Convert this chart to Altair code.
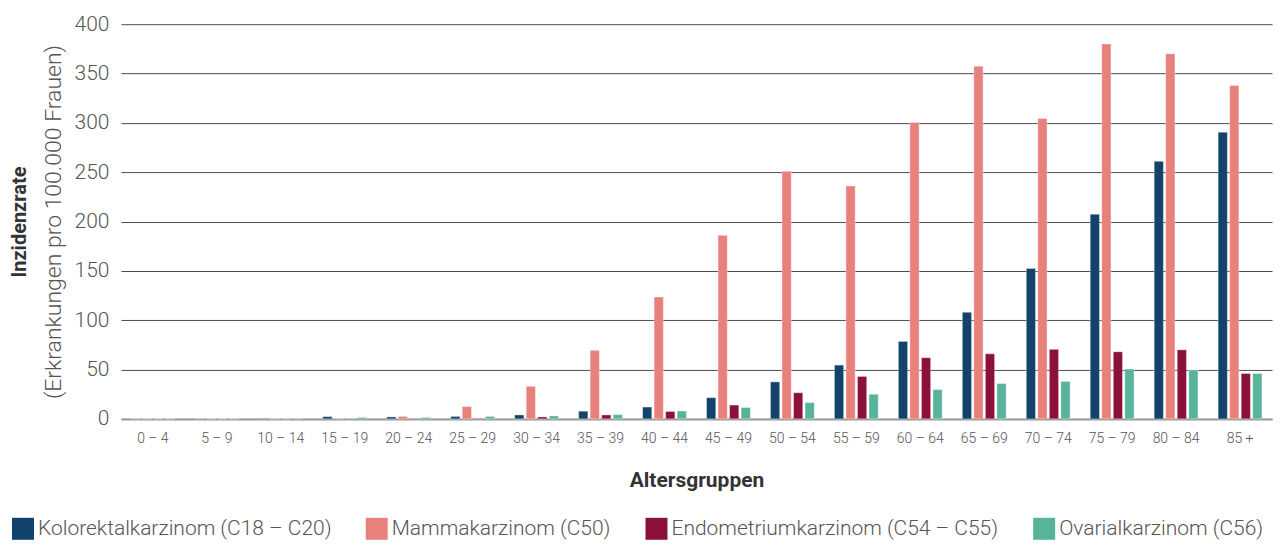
import altair as alt
import pandas as pd

altersgruppen = ["0 – 4", "5 – 9", "10 – 14", "15 – 19", "20 – 24", "25 – 29", "30 – 34",
                 "35 – 39", "40 – 44", "45 – 49", "50 – 54", "55 – 59", "60 – 64", "65 – 69",
                 "70 – 74", "75 – 79", "80 – 84", "85 +"]
serien = ["Kolorektalkarzinom (C18 – C20)", "Mammakarzinom (C50)",
          "Endometriumkarzinom (C54 – C55)", "Ovarialkarzinom (C56)"]
farben = ["#11436c", "#e8807b", "#8b1139", "#58b39b"]

kolorektal = [0.1, 0.2, 0.5, 2.3, 2.0, 2.5, 4.0, 7.8, 12, 21.5, 37.5, 54.5, 78.5, 108,
              152.5, 207.5, 261, 290.5]
mamma = [0.0, 0.0, 0.1, 0.4, 2.5, 12.5, 33, 69.5, 123.5, 186, 251, 236, 300.5, 357.5,
         304.5, 380, 370, 338]
endometrium = [0.0, 0.0, 0.1, 0.3, 0.5, 0.6, 2.0, 4.0, 7.5, 14, 26.5, 43, 62, 66,
               70.5, 68, 70, 46]
ovarial = [0.1, 0.2, 0.4, 1.5, 1.5, 2.5, 3.0, 4.3, 8.0, 11.5, 16.5, 25, 29.7, 35.8,
           38, 50.5, 49.5, 46]

werte = [kolorektal, mamma, endometrium, ovarial]
rows = []
for s, vals in zip(serien, werte):
    for a, v in zip(altersgruppen, vals):
        rows.append({"Alter": a, "Typ": s, "Wert": v})
df = pd.DataFrame(rows)

FONT = "Roboto"

bars = alt.Chart(df).mark_bar(stroke="white", strokeWidth=0.6, strokeOpacity=0.6).encode(
    x=alt.X("Alter:N", sort=altersgruppen,
            scale=alt.Scale(paddingInner=0.315, paddingOuter=0.1575),
            axis=alt.Axis(title="Altersgruppen", labelAngle=0, ticks=False,
                          domainColor="#999999", domainWidth=2,
                          labelFont=FONT, labelFontSize=14, labelFontWeight=300,
                          labelColor="#555555", labelPadding=13,
                          titleFont=FONT, titleFontSize=21, titleFontWeight="bold",
                          titleColor="#333333", titlePadding=24)),
    xOffset=alt.XOffset("Typ:N", sort=serien, scale=alt.Scale(paddingInner=0.2)),
    y=alt.Y("Wert:Q", scale=alt.Scale(domain=[0, 400]),
            axis=alt.Axis(title="(Erkrankungen pro 100.000 Frauen)", values=list(range(0, 401, 50)),
                          ticks=False, domain=False, grid=True, gridColor="#4d4d4d",
                          gridWidth=1, labelFont=FONT, labelFontSize=21, labelFontWeight=300,
                          labelColor="#555555", labelPadding=12,
                          titleFont=FONT, titleFontSize=23, titleFontWeight=300,
                          titleColor="#555555", titlePadding=9)),
    color=alt.Color("Typ:N", sort=serien,
                    scale=alt.Scale(domain=serien, range=farben),
                    legend=alt.Legend(title=None, orient="none", direction="horizontal",
                                      legendX=-109, legendY=494,
                                      symbolType="square", symbolSize=484,
                                      symbolStrokeWidth=0, symbolOpacity=1,
                                      labelFont=FONT, labelFontSize=21, labelFontWeight=300,
                                      labelColor="#555555", labelOffset=4,
                                      columnPadding=34, labelLimit=400)),
)

ytitle = alt.Chart(pd.DataFrame({"t": ["Inzidenzrate"]})).mark_text(
    angle=270, font=FONT, fontSize=20, fontWeight="bold", color="#333333",
    align="center", baseline="middle"
).encode(text="t:N", x=alt.value(-101), y=alt.value(198))

chart = alt.layer(bars, ytitle).properties(
    width=1152, height=395,
    padding={"left": 2, "top": 5, "right": 5, "bottom": 5},
).configure_view(stroke=None)

chart.save("out.html", embed_options={"renderer": "svg", "actions": False})
